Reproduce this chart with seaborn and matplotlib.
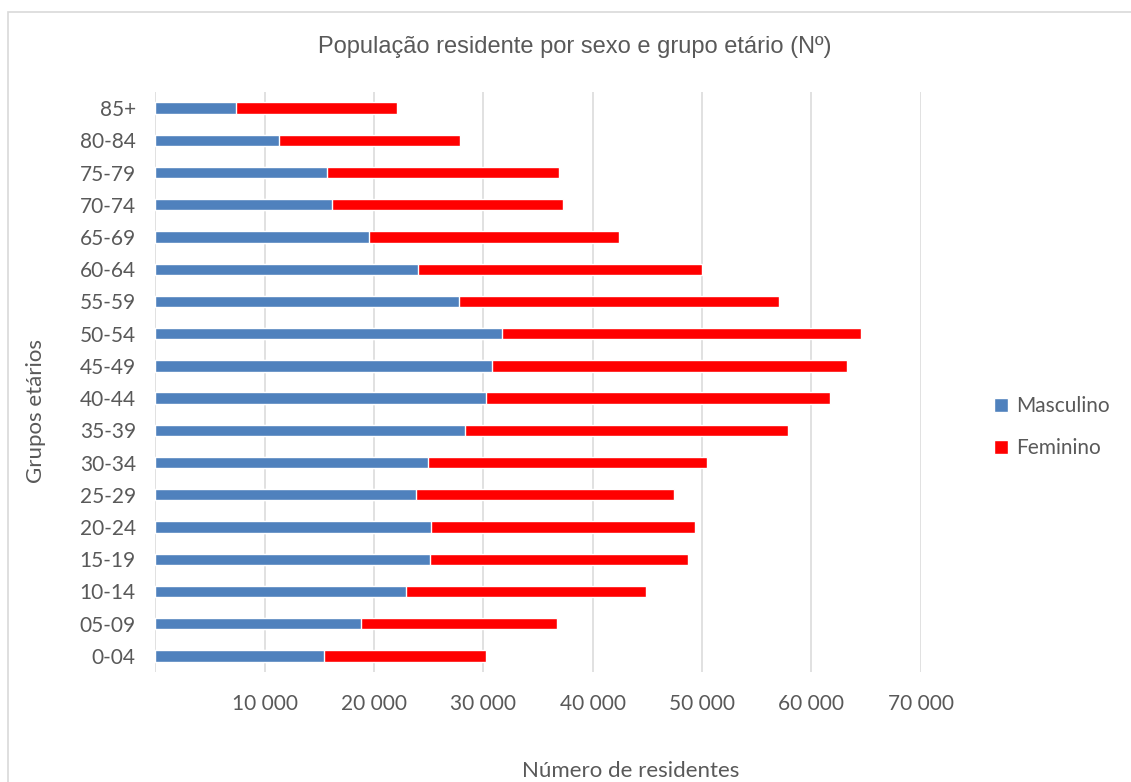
import matplotlib
matplotlib.use("Agg")
import matplotlib.pyplot as plt
from matplotlib.patches import Rectangle
import seaborn as sns
import pandas as pd

# Age groups (ascending) and resident counts by sex
age_groups = ["0-04", "05-09", "10-14", "15-19", "20-24", "25-29", "30-34",
              "35-39", "40-44", "45-49", "50-54", "55-59", "60-64", "65-69",
              "70-74", "75-79", "80-84", "85+"]
masculino = [15440, 18790, 22890, 25090, 25170, 23810, 24920,
             28280, 30200, 30760, 31710, 27760, 24040, 19500,
             16130, 15710, 11270, 7350]
feminino = [14830, 17920, 21980, 23650, 24210, 23600, 25560,
            29580, 31530, 32500, 32830, 29280, 25930, 22880,
            21140, 21210, 16620, 14730]

xticks = [0, 10000, 20000, 30000, 40000, 50000, 60000, 70000]
xtick_labels = ["", "10 000", "20 000", "30 000", "40 000", "50 000", "60 000", "70 000"]

title = "População residente por sexo e grupo etário (Nº)"
xlabel = "Número de residentes"
ylabel = "Grupos etários"
series_names = ["Masculino", "Feminino"]

BLUE = "#4f81bd"
RED = "#ff0000"
TEXT = "#595959"
GRID = "#d9d9d9"

df = pd.DataFrame({"grupo": age_groups, "Masculino": masculino, "Feminino": feminino})
df["total"] = df["Masculino"] + df["Feminino"]
order = age_groups[::-1]

sns.set_theme(style="white")
plt.rcParams["font.family"] = ["Lato", "DejaVu Sans"]

W, H = 1131, 782
fig = plt.figure(figsize=(W / 100, H / 100), dpi=100)
ax = fig.add_axes([155.3 / W, 1 - 672 / H, (920.7 - 155.3) / W, (672 - 92) / H])

# Stacked bars: full total in red, male share drawn over it in blue
sns.barplot(data=df, y="grupo", x="total", order=order, color=RED,
            saturation=1, width=0.35, orient="h", ax=ax, zorder=2,
            label=series_names[1])
sns.barplot(data=df, y="grupo", x="Masculino", order=order, color=BLUE,
            saturation=1, width=0.35, orient="h", ax=ax, zorder=3,
            label=series_names[0])

ax.set_xlim(0, 70000)
ax.set_ylim(len(age_groups) - 0.5, -0.5)
ax.set_xticks(xticks)
ax.set_xticklabels(xtick_labels)
ax.grid(axis="x", color=GRID, linewidth=1.1, zorder=0)
ax.grid(axis="y", visible=False)
ax.set_axisbelow(True)
for s in ax.spines.values():
    s.set_visible(False)

ax.tick_params(axis="y", length=0, pad=14, labelsize=15, labelcolor=TEXT)
ax.tick_params(axis="x", length=0, pad=16, labelsize=15, labelcolor=TEXT)
ax.set_xlabel("")
ax.set_ylabel("")

fig.text(631 / W, 1 - 771 / H, xlabel, ha="center", va="center",
         fontsize=16, color=TEXT)
fig.text(36 / W, 1 - 411 / H, ylabel, ha="center", va="center",
         rotation=90, fontsize=16, color=TEXT)
fig.text(575 / W, 1 - 47 / H, title, ha="center", va="center",
         fontsize=17, color=TEXT,
         family=["Liberation Sans Narrow", "Liberation Sans", "DejaVu Sans"])

handles, labels = ax.get_legend_handles_labels()
hmap = dict(zip(labels, handles))
leg = ax.legend([hmap[n] for n in series_names], series_names,
                loc="center left", bbox_to_anchor=(994 / W, 1 - 427 / H),
                bbox_transform=fig.transFigure, frameon=False,
                fontsize=15, handlelength=0.65, handleheight=0.65,
                handletextpad=0.4, labelspacing=1.05, borderpad=0,
                borderaxespad=0)
for t in leg.get_texts():
    t.set_color(TEXT)

# Chart area border
fig.add_artist(Rectangle((8 / W, -0.5), 2, 0.5 + 1 - 12 / H,
                         transform=fig.transFigure, fill=False,
                         edgecolor=GRID, linewidth=1.2))

fig.savefig("out.png", dpi=100)
